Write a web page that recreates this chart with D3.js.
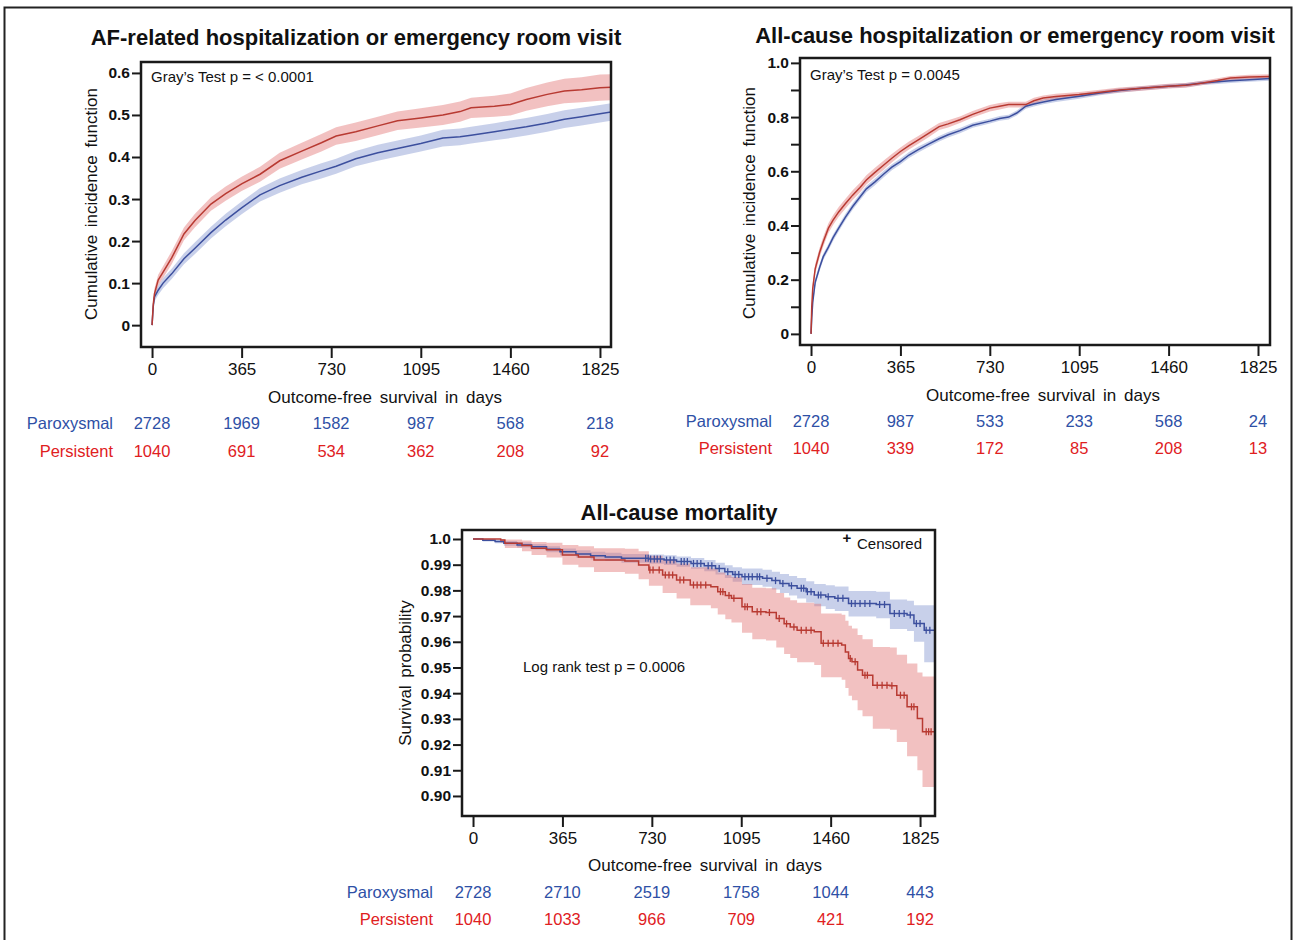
<!DOCTYPE html>
<html>
<head>
<meta charset="utf-8">
<script src="https://cdn.jsdelivr.net/npm/d3@7"></script>
<style>
  body { margin: 0; background: #fff; }
  text { font-family: "Liberation Sans", Arial, sans-serif; fill: #111; }
</style>
</head>
<body>
<div id="figure"></div>
<script>
// x ticks shared by all three panels
const dayTicks = [0, 365, 730, 1095, 1460, 1825];
const groupNames = ["Paroxysmal", "Persistent"];

// panel 1: AF-related hospitalization or ER visit (cumulative incidence)
const afDays = [0, 5, 10, 25, 45, 80, 130, 175, 240, 300, 365, 440, 520, 610, 690, 750, 830, 920, 1000, 1095, 1185, 1255, 1300, 1395, 1460, 1525, 1610, 1680, 1750, 1825, 1870];
const afParEst = [0, 0.045, 0.067, 0.083, 0.1, 0.122, 0.158, 0.183, 0.22, 0.25, 0.279, 0.31, 0.332, 0.352, 0.367, 0.378, 0.396, 0.41, 0.42, 0.432, 0.445, 0.448, 0.452, 0.46, 0.466, 0.472, 0.481, 0.49, 0.496, 0.503, 0.507];
const afParHi = [0, 0.053, 0.077, 0.094, 0.112, 0.134, 0.171, 0.197, 0.234, 0.265, 0.294, 0.326, 0.349, 0.369, 0.385, 0.396, 0.414, 0.429, 0.439, 0.451, 0.465, 0.468, 0.472, 0.48, 0.487, 0.493, 0.502, 0.511, 0.517, 0.524, 0.528];
const afParLo = [0, 0.037, 0.057, 0.072, 0.088, 0.11, 0.145, 0.169, 0.206, 0.235, 0.264, 0.294, 0.315, 0.335, 0.349, 0.36, 0.378, 0.391, 0.401, 0.413, 0.425, 0.428, 0.432, 0.44, 0.445, 0.451, 0.46, 0.469, 0.475, 0.482, 0.486];
const afPerEst = [0, 0.05, 0.075, 0.107, 0.126, 0.16, 0.217, 0.249, 0.288, 0.313, 0.336, 0.359, 0.391, 0.414, 0.434, 0.45, 0.46, 0.474, 0.486, 0.493, 0.5, 0.508, 0.517, 0.521, 0.525, 0.537, 0.549, 0.557, 0.56, 0.565, 0.566];
const afPerHi = [0, 0.06, 0.088, 0.12, 0.14, 0.176, 0.232, 0.265, 0.304, 0.33, 0.353, 0.377, 0.41, 0.434, 0.455, 0.471, 0.482, 0.496, 0.508, 0.516, 0.524, 0.532, 0.541, 0.546, 0.551, 0.564, 0.577, 0.586, 0.59, 0.596, 0.597];
const afPerLo = [0, 0.04, 0.062, 0.094, 0.112, 0.145, 0.202, 0.233, 0.272, 0.296, 0.319, 0.341, 0.372, 0.394, 0.413, 0.429, 0.438, 0.452, 0.464, 0.47, 0.476, 0.484, 0.493, 0.496, 0.499, 0.51, 0.521, 0.528, 0.53, 0.534, 0.535];
const afTicks = [0, 0.1, 0.2, 0.3, 0.4, 0.5, 0.6];
const afTickLabels = ["0", "0.1", "0.2", "0.3", "0.4", "0.5", "0.6"];
const afAtRisk = [[2728, 1969, 1582, 987, 568, 218], [1040, 691, 534, 362, 208, 92]];

// panel 2: all-cause hospitalization or ER visit
const acDays = [0, 3, 7, 17, 35, 50, 71, 90, 113, 140, 170, 200, 226, 260, 297, 330, 365, 400, 438, 480, 523, 560, 608, 660, 730, 770, 807, 840, 877, 910, 948, 1000, 1095, 1180, 1259, 1350, 1460, 1530, 1600, 1660, 1712, 1790, 1875];
const acParEst = [0, 0.06, 0.117, 0.19, 0.245, 0.285, 0.32, 0.355, 0.39, 0.43, 0.47, 0.505, 0.535, 0.56, 0.59, 0.615, 0.636, 0.66, 0.68, 0.7, 0.72, 0.735, 0.75, 0.77, 0.785, 0.795, 0.8, 0.815, 0.84, 0.848, 0.856, 0.865, 0.877, 0.889, 0.898, 0.906, 0.914, 0.918, 0.926, 0.93, 0.934, 0.938, 0.942];
const acParHi = [0, 0.072, 0.13, 0.203, 0.258, 0.297, 0.332, 0.367, 0.402, 0.442, 0.482, 0.517, 0.547, 0.572, 0.602, 0.626, 0.647, 0.671, 0.691, 0.71, 0.73, 0.745, 0.76, 0.779, 0.794, 0.804, 0.809, 0.824, 0.849, 0.857, 0.865, 0.874, 0.886, 0.897, 0.906, 0.914, 0.922, 0.926, 0.934, 0.938, 0.942, 0.946, 0.95];
const acParLo = [0, 0.048, 0.104, 0.177, 0.232, 0.273, 0.308, 0.343, 0.378, 0.418, 0.458, 0.493, 0.523, 0.548, 0.578, 0.604, 0.625, 0.649, 0.669, 0.69, 0.71, 0.725, 0.74, 0.761, 0.776, 0.786, 0.791, 0.806, 0.831, 0.839, 0.847, 0.856, 0.868, 0.881, 0.89, 0.898, 0.906, 0.91, 0.918, 0.922, 0.926, 0.93, 0.934];
const acPerEst = [0, 0.1, 0.167, 0.24, 0.3, 0.34, 0.39, 0.42, 0.45, 0.48, 0.512, 0.54, 0.568, 0.595, 0.623, 0.648, 0.673, 0.695, 0.716, 0.74, 0.765, 0.775, 0.79, 0.81, 0.833, 0.84, 0.846, 0.846, 0.846, 0.86, 0.87, 0.876, 0.883, 0.892, 0.9, 0.906, 0.914, 0.917, 0.926, 0.935, 0.944, 0.948, 0.95];
const acPerHi = [0, 0.115, 0.185, 0.258, 0.318, 0.358, 0.408, 0.438, 0.468, 0.498, 0.53, 0.558, 0.585, 0.612, 0.64, 0.664, 0.688, 0.71, 0.73, 0.754, 0.778, 0.788, 0.802, 0.822, 0.845, 0.852, 0.857, 0.857, 0.857, 0.871, 0.88, 0.886, 0.893, 0.901, 0.909, 0.915, 0.923, 0.926, 0.934, 0.943, 0.952, 0.956, 0.958];
const acPerLo = [0, 0.085, 0.149, 0.222, 0.282, 0.322, 0.372, 0.402, 0.432, 0.462, 0.494, 0.522, 0.551, 0.578, 0.606, 0.632, 0.658, 0.68, 0.702, 0.726, 0.752, 0.762, 0.778, 0.798, 0.821, 0.828, 0.835, 0.835, 0.835, 0.849, 0.86, 0.866, 0.873, 0.883, 0.891, 0.897, 0.905, 0.908, 0.918, 0.927, 0.936, 0.94, 0.942];
const acTicks = [0, 0.1, 0.2, 0.3, 0.4, 0.5, 0.6, 0.7, 0.8, 0.9, 1.0];
const acTickLabels = ["0", "", "0.2", "", "0.4", "", "0.6", "", "0.8", "", "1.0"];
const acAtRisk = [[2728, 987, 533, 233, 568, 24], [1040, 339, 172, 85, 208, 13]];

// panel 3: all-cause mortality (Kaplan-Meier)
const mParDays = [0, 40, 90, 126, 180, 239, 300, 355, 420, 480, 540, 606, 718, 780, 831, 890, 944, 990, 1028, 1060, 1098, 1182, 1220, 1253, 1290, 1323, 1360, 1393, 1440, 1477, 1533, 1646, 1702, 1772, 1800, 1842, 1886];
const mParEst = [1.0, 0.9995, 0.999, 0.9983, 0.9977, 0.997, 0.996, 0.995, 0.9942, 0.9935, 0.993, 0.9925, 0.9922, 0.9918, 0.9912, 0.9905, 0.9896, 0.9885, 0.9873, 0.9862, 0.9853, 0.9847, 0.9838, 0.9827, 0.9818, 0.9808, 0.9795, 0.9782, 0.9775, 0.9769, 0.9749, 0.9745, 0.971, 0.9704, 0.9671, 0.9645, 0.9645];
const mParHi = [1.0, 1.0, 0.9997, 0.9992, 0.9987, 0.9981, 0.9972, 0.9963, 0.9956, 0.995, 0.9946, 0.9942, 0.994, 0.9937, 0.9932, 0.9926, 0.9918, 0.9908, 0.9898, 0.989, 0.9885, 0.988, 0.9873, 0.9864, 0.9856, 0.9848, 0.9836, 0.9825, 0.982, 0.9815, 0.9798, 0.9795, 0.9765, 0.976, 0.9742, 0.9742, 0.9742];
const mParLo = [1.0, 0.999, 0.9983, 0.9974, 0.9967, 0.9959, 0.9948, 0.9937, 0.9928, 0.992, 0.9914, 0.9908, 0.9904, 0.9899, 0.9892, 0.9884, 0.9874, 0.9862, 0.9848, 0.9834, 0.9821, 0.9814, 0.9803, 0.979, 0.978, 0.9768, 0.9753, 0.9738, 0.9728, 0.972, 0.9698, 0.9692, 0.965, 0.9642, 0.96, 0.952, 0.952];
const mPerDays = [0, 113, 130, 200, 239, 300, 365, 430, 494, 620, 676, 718, 774, 831, 887, 971, 999, 1030, 1055, 1098, 1140, 1196, 1238, 1270, 1295, 1323, 1393, 1421, 1505, 1520, 1533, 1547, 1570, 1590, 1632, 1702, 1730, 1772, 1814, 1835, 1886];
const mPerEst = [1.0, 0.9996, 0.9983, 0.9975, 0.9964, 0.9958, 0.9938, 0.993, 0.9918, 0.9914, 0.9899, 0.9879, 0.986, 0.984, 0.9821, 0.9814, 0.9795, 0.978, 0.9769, 0.9736, 0.9717, 0.9714, 0.9691, 0.967, 0.9658, 0.9645, 0.9639, 0.9594, 0.9587, 0.956, 0.9535, 0.9522, 0.949, 0.947, 0.9431, 0.9429, 0.9392, 0.9347, 0.9301, 0.925, 0.925];
const mPerHi = [1.0, 1.0, 0.9998, 0.9994, 0.9988, 0.9985, 0.9977, 0.9972, 0.9964, 0.9962, 0.9952, 0.9935, 0.992, 0.9905, 0.989, 0.9885, 0.987, 0.986, 0.9852, 0.9825, 0.981, 0.9808, 0.979, 0.9772, 0.9762, 0.9752, 0.9748, 0.971, 0.9705, 0.9682, 0.9662, 0.9652, 0.9626, 0.961, 0.958, 0.9578, 0.955, 0.9515, 0.948, 0.9465, 0.9465];
const mPerLo = [1.0, 0.9985, 0.9965, 0.9952, 0.9938, 0.9928, 0.99, 0.989, 0.9872, 0.9865, 0.9843, 0.9818, 0.979, 0.9768, 0.9742, 0.973, 0.9706, 0.9688, 0.9675, 0.9635, 0.961, 0.9605, 0.9578, 0.9552, 0.9537, 0.952, 0.951, 0.9462, 0.9452, 0.942, 0.939, 0.9372, 0.9334, 0.931, 0.9262, 0.9258, 0.921, 0.9155, 0.91, 0.9035, 0.897];
// censoring times (days)
const mParCensor = [705, 715, 725, 740, 752, 765, 790, 805, 820, 850, 862, 875, 900, 915, 930, 960, 975, 1005, 1040, 1070, 1085, 1110, 1125, 1140, 1160, 1170, 1200, 1235, 1265, 1300, 1340, 1350, 1365, 1380, 1410, 1420, 1450, 1490, 1510, 1545, 1560, 1580, 1600, 1620, 1660, 1680, 1720, 1740, 1760, 1785, 1810, 1825, 1850, 1865];
const mPerCensor = [722, 735, 760, 785, 800, 815, 845, 860, 900, 915, 930, 950, 1010, 1020, 1045, 1065, 1110, 1120, 1160, 1175, 1210, 1250, 1280, 1310, 1340, 1360, 1380, 1430, 1450, 1470, 1490, 1540, 1560, 1600, 1610, 1650, 1670, 1690, 1710, 1745, 1760, 1790, 1800, 1850, 1860, 1870];
const mTicks = [0.90, 0.91, 0.92, 0.93, 0.94, 0.95, 0.96, 0.97, 0.98, 0.99, 1.0];
const mTickLabels = ["0.90", "0.91", "0.92", "0.93", "0.94", "0.95", "0.96", "0.97", "0.98", "0.99", "1.0"];
const mAtRisk = [[2728, 2710, 2519, 1758, 1044, 443], [1040, 1033, 966, 709, 421, 192]];

// colours
const blueLine = "#3c4f9e", redLine = "#b83a32";
const blueBand = "#7d8fcc", redBand = "#e06c6c";
const blueText = "#2e50a6", redText = "#e0201e";

const svgWidth = 1293;
const svgHeight = 940;

const svg = d3.select("#figure")
    .append("svg")
    .attr("width", svgWidth)
    .attr("height", svgHeight);

// outer frame of the figure
svg.append("rect")
    .attr("x", 4.5)
    .attr("y", 7.5)
    .attr("width", 1287)
    .attr("height", 945)
    .attr("fill", "none")
    .attr("stroke", "#222")
    .attr("stroke-width", 2);

function zipSeries(days, est, lo, hi) {
    return days.map((d, i) => ({ day: d, est: est[i], lo: lo[i], hi: hi[i] }));
}

function drawPanel(p, idx) {
    const x = d3.scaleLinear().domain(p.xDomain).range([p.left, p.right]);
    const y = d3.scaleLinear().domain(p.yDomain).range([p.bottom, p.top]);

    const g = svg.append("g");

    g.append("clipPath")
        .attr("id", "clip" + idx)
        .append("rect")
        .attr("x", p.left)
        .attr("y", p.top)
        .attr("width", p.right - p.left)
        .attr("height", p.bottom - p.top);

    const plot = g.append("g").attr("clip-path", `url(#clip${idx})`);

    const area = d3.area()
        .x(d => x(d.day))
        .y0(d => y(d.lo))
        .y1(d => y(d.hi))
        .curve(p.curve);

    const line = d3.line()
        .x(d => x(d.day))
        .y(d => y(d.est))
        .curve(p.curve);

    // confidence bands first, then the estimates
    p.series.forEach(s => {
        plot.append("path")
            .datum(s.data)
            .attr("d", area)
            .attr("fill", s.band)
            .attr("fill-opacity", 0.42);
    });
    p.series.forEach(s => {
        plot.append("path")
            .datum(s.data)
            .attr("d", line)
            .attr("fill", "none")
            .attr("stroke", s.color)
            .attr("stroke-width", 1.5);

        // censor marks
        if (s.censor) {
            const bis = d3.bisector(d => d.day).right;
            plot.selectAll(null)
                .data(s.censor)
                .enter()
                .append("line")
                .attr("x1", d => x(d))
                .attr("x2", d => x(d))
                .attr("y1", d => y(s.data[bis(s.data, d) - 1].est) - 3.5)
                .attr("y2", d => y(s.data[bis(s.data, d) - 1].est) + 3.5)
                .attr("stroke", s.color)
                .attr("stroke-width", 1.3);
        }
    });

    // plot frame
    g.append("rect")
        .attr("x", p.left)
        .attr("y", p.top)
        .attr("width", p.right - p.left)
        .attr("height", p.bottom - p.top)
        .attr("fill", "none")
        .attr("stroke", "#1a1a1a")
        .attr("stroke-width", 2.5);

    // x axis
    const xAxis = g.append("g")
        .attr("transform", `translate(0, ${p.bottom + 1})`)
        .call(d3.axisBottom(x).tickValues(dayTicks).tickFormat(d3.format("d"))
            .tickSize(10).tickPadding(5).tickSizeOuter(0));
    xAxis.select(".domain").remove();
    xAxis.selectAll("line").attr("stroke", "#1a1a1a").attr("stroke-width", 2);
    xAxis.selectAll("text")
        .style("font-size", "17px")
        .style("font-family", "Liberation Sans, Arial, sans-serif")
        .attr("fill", "#111");

    // y axis
    const yAxis = g.append("g")
        .attr("transform", `translate(${p.left - 1}, 0)`)
        .call(d3.axisLeft(y).tickValues(p.yTicks).tickSize(8).tickPadding(2)
            .tickFormat((d, i) => p.yTickLabels[i]).tickSizeOuter(0));
    yAxis.select(".domain").remove();
    yAxis.selectAll("line").attr("stroke", "#1a1a1a").attr("stroke-width", 2);
    yAxis.selectAll("text")
        .style("font-size", "15.5px")
        .style("font-weight", "bold")
        .style("font-family", "Liberation Sans, Arial, sans-serif")
        .attr("fill", "#111");

    // title
    g.append("text")
        .attr("x", p.titleX)
        .attr("y", p.titleY)
        .attr("dy", "0.35em")
        .attr("text-anchor", "middle")
        .style("font-size", "22px")
        .style("font-weight", "bold")
        .text(p.title);

    // y axis label
    g.append("text")
        .attr("transform", `translate(${p.yLabelX}, ${p.yLabelY}) rotate(-90)`)
        .attr("dy", "0.35em")
        .attr("text-anchor", "middle")
        .style("font-size", "17px")
        .style("word-spacing", "3px")
        .text(p.yLabel);

    // x axis label
    g.append("text")
        .attr("x", p.xLabelX)
        .attr("y", p.xLabelY)
        .attr("dy", "0.35em")
        .attr("text-anchor", "middle")
        .style("font-size", "17px")
        .style("word-spacing", "3px")
        .text("Outcome-free survival in days");

    // test annotation
    g.append("text")
        .attr("x", p.noteX)
        .attr("y", p.noteY)
        .attr("dy", "0.35em")
        .style("font-size", "15px")
        .text(p.note);

    // number at risk table
    const rowColors = [blueText, redText];
    p.atRisk.forEach((row, r) => {
        const ry = p.tableY[r];
        g.append("text")
            .attr("x", p.tableLabelX)
            .attr("y", ry)
            .attr("dy", "0.35em")
            .attr("text-anchor", "end")
            .style("font-size", "16.5px")
            .style("fill", rowColors[r])
            .text(groupNames[r]);
        g.selectAll(null)
            .data(row)
            .enter()
            .append("text")
            .attr("x", (d, i) => x(dayTicks[i]))
            .attr("y", ry)
            .attr("dy", "0.35em")
            .attr("text-anchor", "middle")
            .style("font-size", "16.5px")
            .style("fill", rowColors[r])
            .text(d => d);
    });

    return { x, y, g };
}

// panel 1
drawPanel({
    left: 141, right: 611, top: 62, bottom: 347,
    xDomain: [-45, 1870], yDomain: [-0.052, 0.626],
    yTicks: afTicks, yTickLabels: afTickLabels,
    curve: d3.curveLinear,
    series: [
        { data: zipSeries(afDays, afParEst, afParLo, afParHi), color: blueLine, band: blueBand },
        { data: zipSeries(afDays, afPerEst, afPerLo, afPerHi), color: redLine, band: redBand }
    ],
    title: "AF-related hospitalization or emergency room visit", titleX: 356, titleY: 37,
    yLabel: "Cumulative incidence function", yLabelX: 91, yLabelY: 204,
    xLabelX: 385, xLabelY: 397,
    note: "Gray\u2019s Test p = < 0.0001", noteX: 151, noteY: 77,
    atRisk: afAtRisk, tableLabelX: 113, tableY: [423, 451]
}, 1);

// panel 2
drawPanel({
    left: 800, right: 1270, top: 58, bottom: 345,
    xDomain: [-45, 1874], yDomain: [-0.041, 1.018],
    yTicks: acTicks, yTickLabels: acTickLabels,
    curve: d3.curveLinear,
    series: [
        { data: zipSeries(acDays, acParEst, acParLo, acParHi), color: blueLine, band: blueBand },
        { data: zipSeries(acDays, acPerEst, acPerLo, acPerHi), color: redLine, band: redBand }
    ],
    title: "All-cause hospitalization or emergency room visit", titleX: 1015, titleY: 35,
    yLabel: "Cumulative incidence function", yLabelX: 749, yLabelY: 203,
    xLabelX: 1043, xLabelY: 395,
    note: "Gray\u2019s Test p = 0.0045", noteX: 810, noteY: 75,
    atRisk: acAtRisk, tableLabelX: 772, tableY: [421, 448]
}, 2);

// panel 3
const p3 = drawPanel({
    left: 462, right: 935, top: 530, bottom: 816,
    xDomain: [-45, 1886], yDomain: [0.8922, 1.0035],
    yTicks: mTicks, yTickLabels: mTickLabels,
    curve: d3.curveStepAfter,
    series: [
        { data: zipSeries(mParDays, mParEst, mParLo, mParHi), color: blueLine, band: blueBand, censor: mParCensor },
        { data: zipSeries(mPerDays, mPerEst, mPerLo, mPerHi), color: redLine, band: redBand, censor: mPerCensor }
    ],
    title: "All-cause mortality", titleX: 679, titleY: 512,
    yLabel: "Survival probability", yLabelX: 405, yLabelY: 673,
    xLabelX: 705, xLabelY: 865,
    note: "Log rank test p = 0.0006", noteX: 523, noteY: 667,
    atRisk: mAtRisk, tableLabelX: 433, tableY: [892, 919]
}, 3);

// censored legend
p3.g.append("text")
    .attr("x", 847)
    .attr("y", 538)
    .attr("text-anchor", "middle")
    .attr("dy", "0.35em")
    .style("font-size", "15px")
    .style("font-weight", "bold")
    .text("+");
p3.g.append("text")
    .attr("x", 857)
    .attr("y", 544)
    .attr("dy", "0.35em")
    .style("font-size", "15px")
    .text("Censored");
</script>
</body>
</html>
